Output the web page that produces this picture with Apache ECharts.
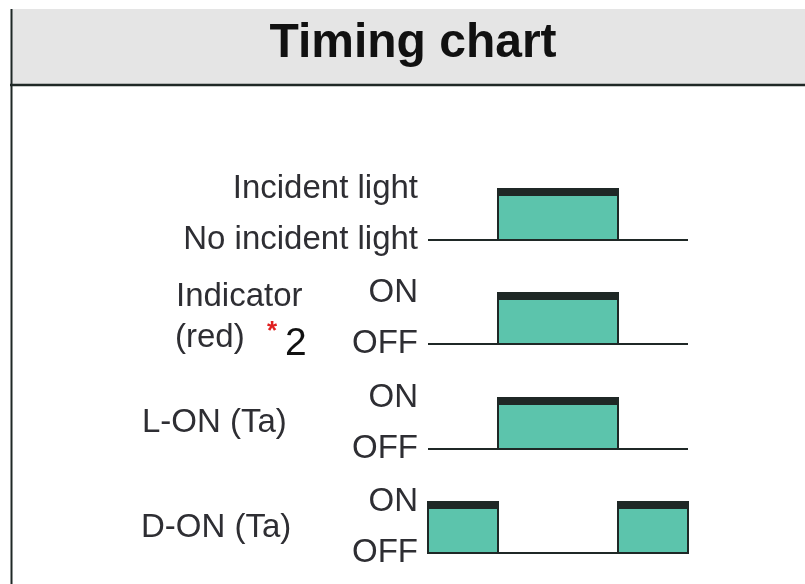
<!DOCTYPE html>
<html><head><meta charset="utf-8">
<script src="https://cdn.jsdelivr.net/npm/echarts@6/dist/echarts.min.js"></script>
<style>html,body{margin:0;padding:0;background:#fff}#c{width:805px;height:584px}</style>
</head><body><div id="c"></div>
<script>
// ---- data ----
const titleText = 'Timing chart';
const times = [0, 7, 19, 26];                 // transition instants
const incidentLevels = [0, 1, 0];             // level per interval
const indicatorLevels = [0, 1, 0];
const lonLevels = [0, 1, 0];
const donLevels = [1, 0, 1];
const highLabels = ['Incident light', 'ON', 'ON', 'ON'];
const lowLabels = ['No incident light', 'OFF', 'OFF', 'OFF'];
const rowNames = ['', 'Indicator', 'L-ON (Ta)', 'D-ON (Ta)'];
const indicatorSub = '(red)';
const noteMark = '*';
const noteNum = '2';

// ---- styling ----
const TEAL = '#5cc4ac';
const DARK = '#1f2826';
const TXT = '#2e2e33';
const FONT = '"Liberation Sans", Arial, Helvetica, sans-serif';
const FS = 33;
const baselines = [240, 344, 449, 553];
const ROW_H = 51;

const allLevels = [incidentLevels, indicatorLevels, lonLevels, donLevels];

function renderItem(params, api) {
  const t0 = api.value(0), t1 = api.value(1), lv = api.value(2);
  const a = api.coord([t0, 0]);
  const b = api.coord([t1, 1]);
  if (lv === 1) {
    return {
      type: 'group',
      children: [
        { type: 'rect', shape: { x: a[0], y: b[1], width: b[0] - a[0], height: a[1] - b[1] },
          style: { fill: TEAL, stroke: DARK, lineWidth: 2 } },
        { type: 'rect', shape: { x: a[0], y: b[1], width: b[0] - a[0], height: 7 },
          style: { fill: DARK } }
      ]
    };
  }
  return { type: 'line', shape: { x1: a[0], y1: a[1], x2: b[0], y2: a[1] },
           style: { stroke: DARK, lineWidth: 2 } };
}

const grids = [], xAxes = [], yAxes = [], series = [];
allLevels.forEach((lv, i) => {
  grids.push({ left: 428, width: 260, top: baselines[i] - ROW_H, height: ROW_H });
  xAxes.push({ gridIndex: i, type: 'value', min: times[0], max: times[times.length - 1], show: false });
  yAxes.push({
    gridIndex: i, type: 'value', min: 0, max: 1, interval: 1,
    axisLine: { show: false }, axisTick: { show: false }, splitLine: { show: false },
    axisLabel: {
      margin: 10, fontSize: FS, color: TXT, fontFamily: FONT,
      formatter: v => (v === 1 ? highLabels[i] : lowLabels[i])
    }
  });
  const data = lv.map((l, k) => [times[k], times[k + 1], l]);
  series.push({
    type: 'custom', xAxisIndex: i, yAxisIndex: i, clip: false,
    encode: { x: [0, 1], y: 2 }, renderItem: renderItem, data: data, silent: true
  });
});

const textStyle = (s) => Object.assign({ fill: TXT, font: FS + 'px ' + FONT, textVerticalAlign: 'middle' }, s);

const graphic = [
  { type: 'rect', shape: { x: 12, y: 9, width: 793, height: 76 }, style: { fill: '#e5e5e5' }, silent: true },
  { type: 'line', shape: { x1: 10, y1: 85, x2: 805, y2: 85 }, style: { stroke: DARK, lineWidth: 2.5 }, silent: true },
  { type: 'line', shape: { x1: 11.5, y1: 9, x2: 11.5, y2: 584 }, style: { stroke: DARK, lineWidth: 2 }, silent: true },
  { type: 'text', x: 413, y: 44, style: { text: titleText, fill: '#111', font: 'bold 48px ' + FONT, textAlign: 'center', textVerticalAlign: 'middle' } },
  { type: 'text', x: 176, y: 297, style: textStyle({ text: rowNames[1] }) },
  { type: 'text', x: 175, y: 338, style: textStyle({ text: indicatorSub }) },
  { type: 'text', x: 267, y: 332, style: textStyle({ text: noteMark, fill: '#e02020', font: 'bold 26px ' + FONT }) },
  { type: 'text', x: 285, y: 344, style: textStyle({ text: noteNum, fill: '#111', font: '39px ' + FONT }) },
  { type: 'text', x: 142, y: 423, style: textStyle({ text: rowNames[2] }) },
  { type: 'text', x: 141, y: 528, style: textStyle({ text: rowNames[3] }) }
];

const chart = echarts.init(document.getElementById('c'), null, { renderer: 'canvas' });
chart.setOption({
  animation: false,
  backgroundColor: '#fff',
  grid: grids, xAxis: xAxes, yAxis: yAxes, series: series,
  graphic: graphic
});
</script></body></html>
